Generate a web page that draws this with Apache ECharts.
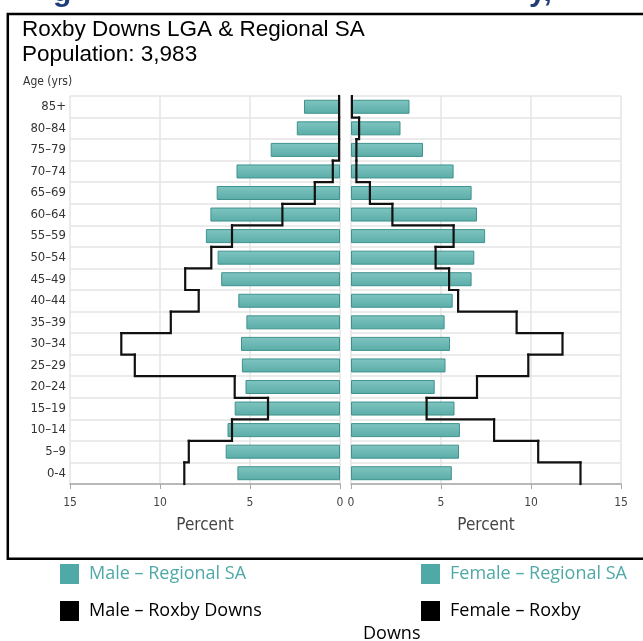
<!DOCTYPE html>
<html>
<head>
    <meta charset="utf-8">
    <title>Roxby Downs LGA & Regional SA</title>
    <script src="https://cdn.jsdelivr.net/npm/echarts@6/dist/echarts.min.js"></script>
    <style>
        html, body { margin: 0; padding: 0; background: #fff; }
        #chartmain { width: 643px; height: 641px; }
    </style>
</head>
<body>
<div id="chartmain"></div>
<script>
    // age groups, top of pyramid first
    var ageGroups = ['85+', '80–84', '75–79', '70–74', '65–69', '60–64', '55–59', '50–54', '45–49',
        '40–44', '35–39', '30–34', '25–29', '20–24', '15–19', '10–14', '5–9', '0-4'];
    // percent of population
    var maleRegional = [2.0, 2.4, 3.85, 5.75, 6.85, 7.2, 7.45, 6.8, 6.6, 5.65, 5.2, 5.5, 5.45, 5.25, 5.85, 6.25, 6.35, 5.7];
    var femaleRegional = [3.25, 2.75, 4.0, 5.7, 6.7, 7.0, 7.45, 6.85, 6.7, 5.65, 5.2, 5.5, 5.25, 4.65, 5.75, 6.05, 6.0, 5.6];
    var maleRoxby = [0.05, 0.05, 0.05, 0.4, 1.4, 3.2, 6.0, 7.15, 8.6, 7.85, 9.4, 12.15, 11.4, 5.85, 4.0, 6.0, 8.4, 8.65];
    var femaleRoxby = [0.05, 0.45, 0.3, 0.3, 1.05, 2.3, 5.7, 4.7, 5.45, 5.95, 9.2, 11.75, 9.85, 7.0, 4.2, 7.95, 10.4, 12.75];
    var xTicks = [0, 5, 10, 15];

    var narrow = "'Liberation Sans Narrow', 'Arial Narrow', 'DejaVu Sans Condensed', sans-serif";
    var teal = '#4fa9a7';

    var myChart = echarts.init(document.getElementById('chartmain'));

    var barStyle = {
        color: new echarts.graphic.LinearGradient(0, 0, 0, 1, [
            {offset: 0, color: '#80c5c1'},
            {offset: 1, color: '#5aaca8'}
        ]),
        borderColor: '#3f928d',
        borderWidth: 1
    };

    // step outline: one vertical piece per age band, joined at the band edge
    function stepItem(values) {
        return function (params, api) {
            var i = params.dataIndex;
            var p = api.coord([api.value(0), i]);
            var h = api.size([0, 1])[1];
            var top = p[1] - h / 2, bot = p[1] + h / 2;
            var pts = [[p[0], top], [p[0], bot]];
            if (i + 1 < values.length) {
                var q = api.coord([values[i + 1], i + 1]);
                pts.push([q[0], bot]);
            }
            return {
                type: 'polyline',
                shape: {points: pts},
                style: {stroke: '#111', lineWidth: 2.2, fill: null, lineCap: 'square', lineJoin: 'miter'}
            };
        };
    }

    function xAxisOf(idx, inverse) {
        return {
            type: 'value', gridIndex: idx, min: 0, max: 15, interval: 5, inverse: inverse,
            name: 'Percent', nameLocation: 'middle', nameGap: 33,
            nameTextStyle: {fontFamily: narrow, fontSize: 17, color: '#444'},
            axisLine: {show: true, lineStyle: {color: '#a8a8a8', width: 1.5}},
            axisTick: {show: true, length: 5, lineStyle: {color: '#a8a8a8'}},
            axisLabel: {fontFamily: narrow, fontSize: 12, color: '#444', margin: 13,
                formatter: function (v) { return xTicks.indexOf(v) >= 0 ? String(v) : ''; }},
            splitLine: {show: true, lineStyle: {color: '#e4e4e4', width: 1.5}}
        };
    }

    function yAxisOf(idx, showLabels) {
        return {
            type: 'category', gridIndex: idx, inverse: true, data: ageGroups,
            axisLine: {show: false}, axisTick: {show: false},
            axisLabel: {show: showLabels, fontFamily: narrow, fontSize: 13, color: '#333', margin: 4},
            splitLine: {show: true, lineStyle: {color: '#e4e4e4', width: 1.5}}
        };
    }

    function toPairs(values) {
        return values.map(function (v, i) { return [v, i]; });
    }

    function legendAt(name, left, top, color, label) {
        return {
            data: [name], left: left, top: top, padding: 0, orient: 'horizontal',
            icon: 'rect', itemWidth: 19, itemHeight: 20, selectedMode: false,
            itemStyle: {color: color === '#000' ? '#000' : teal, borderWidth: 0},
            textStyle: {fontFamily: "'Open Sans', sans-serif", fontSize: 18, color: color, padding: [0, 0, 0, 5]},
            formatter: function () { return label; }
        };
    }

    var option = {
        animation: false,
        grid: [
            {left: 70, right: 303, top: 96, bottom: 157},
            {left: 351, right: 22, top: 96, bottom: 157}
        ],
        xAxis: [xAxisOf(0, true), xAxisOf(1, false)],
        yAxis: [yAxisOf(0, true), yAxisOf(1, false)],
        legend: [
            legendAt('Male – Regional SA', 60, 564, teal, 'Male – Regional SA'),
            legendAt('Female – Regional SA', 421, 564, teal, 'Female – Regional SA'),
            legendAt('Male – Roxby Downs', 60, 601, '#000', 'Male – Roxby Downs'),
            legendAt('Female – Roxby Downs', 421, 601, '#000', 'Female – Roxby')
        ],
        graphic: [
            {type: 'rect', silent: true, shape: {x: 7.8, y: 14, width: 700, height: 544.7},
                style: {fill: null, stroke: '#000', lineWidth: 2.5}},
            {type: 'text', silent: true, x: 53, y: 8,
                style: {text: 'g', font: 'bold 30px "Liberation Sans", Arial, sans-serif', fill: '#1f3d7a', verticalAlign: 'bottom'}},
            {type: 'text', silent: true, x: 529, y: 8,
                style: {text: 'y,', font: 'bold 30px "Liberation Sans", Arial, sans-serif', fill: '#1f3d7a', verticalAlign: 'bottom'}},
            {type: 'text', silent: true, x: 22, y: 18,
                style: {text: 'Roxby Downs LGA & Regional SA', font: '22.5px "Liberation Sans", Arial, sans-serif', fill: '#000'}},
            {type: 'text', silent: true, x: 22, y: 43,
                style: {text: 'Population: 3,983', font: '22.5px "Liberation Sans", Arial, sans-serif', fill: '#000'}},
            {type: 'text', silent: true, x: 23, y: 76,
                style: {text: 'Age (yrs)', font: '12px ' + narrow, fill: '#333'}},
            {type: 'text', silent: true, x: 363, y: 625,
                style: {text: 'Downs', font: "18px 'Open Sans', sans-serif", fill: '#000'}}
        ],
        series: [
            {name: 'Male – Regional SA', type: 'bar', xAxisIndex: 0, yAxisIndex: 0,
                data: maleRegional, barWidth: 14, itemStyle: barStyle, color: teal},
            {name: 'Female – Regional SA', type: 'bar', xAxisIndex: 1, yAxisIndex: 1,
                data: femaleRegional, barWidth: 14, itemStyle: barStyle, color: teal},
            {name: 'Male – Roxby Downs', type: 'custom', xAxisIndex: 0, yAxisIndex: 0, z: 5,
                data: toPairs(maleRoxby), encode: {x: 0, y: 1}, itemStyle: {color: '#000'},
                renderItem: stepItem(maleRoxby)},
            {name: 'Female – Roxby Downs', type: 'custom', xAxisIndex: 1, yAxisIndex: 1, z: 5,
                data: toPairs(femaleRoxby), encode: {x: 0, y: 1}, itemStyle: {color: '#000'},
                renderItem: stepItem(femaleRoxby)}
        ]
    };

    myChart.setOption(option);
</script>
</body>
</html>
